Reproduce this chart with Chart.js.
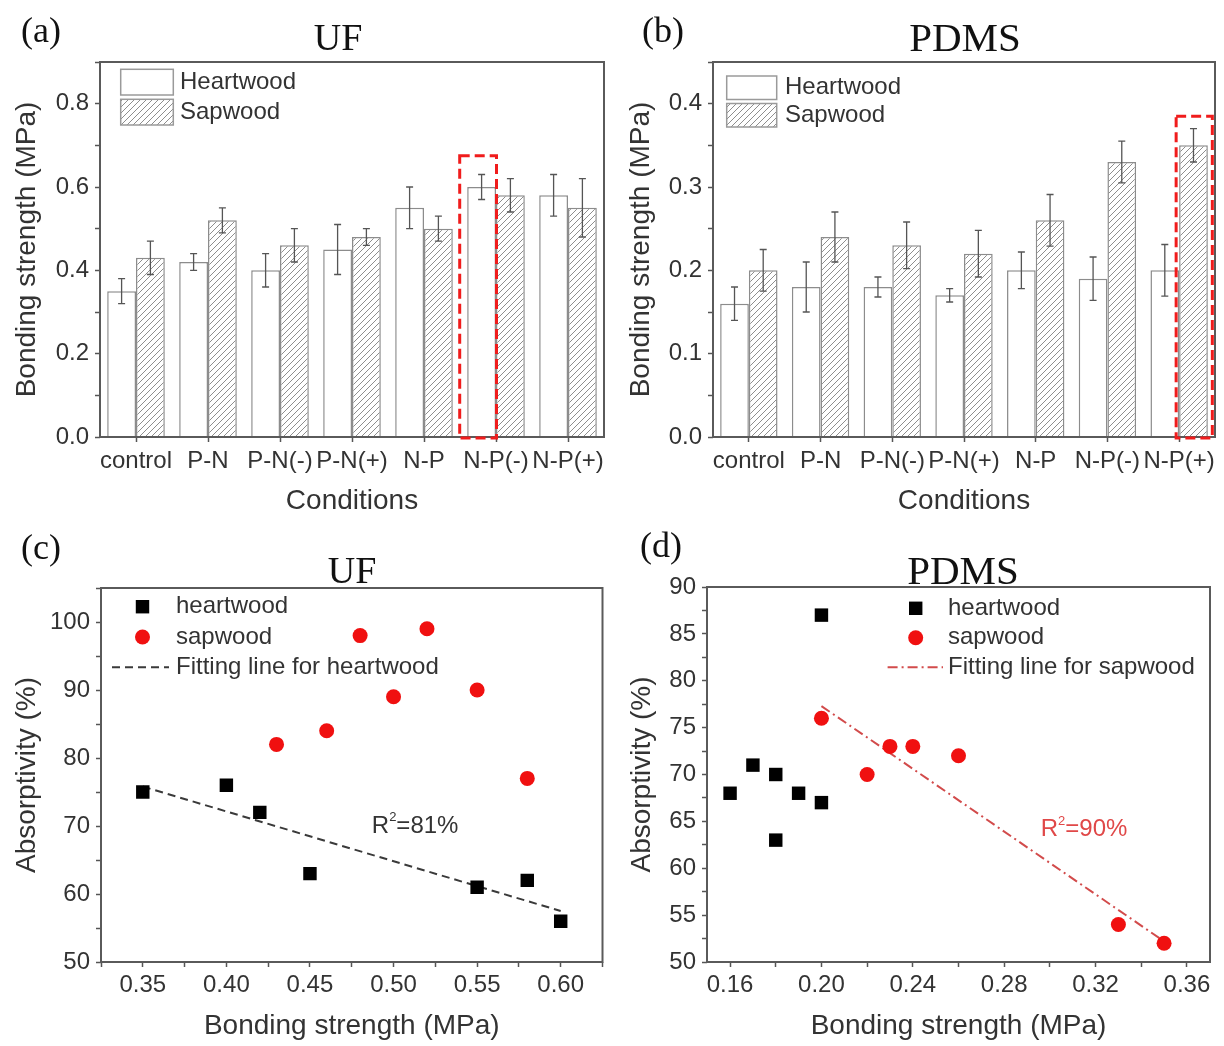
<!DOCTYPE html>
<html>
<head>
<meta charset="utf-8">
<script src="https://cdn.jsdelivr.net/npm/chart.js@4.4.0/dist/chart.umd.min.js"></script>
<style>
html,body{margin:0;padding:0;background:#fff;}
#wrap{position:relative;width:1224px;height:1046px;overflow:hidden;background:#fff;}
#wrap canvas{position:absolute;}
.lbl{position:absolute;font-family:"Liberation Serif","Times New Roman",serif;color:#111;white-space:nowrap;line-height:1;}
.ctr{transform:translateX(-50%);}
</style>
</head>
<body>
<div id="wrap">
  <canvas id="ca" width="612" height="523" style="left:0;top:0"></canvas>
  <canvas id="cb" width="612" height="523" style="left:612px;top:0"></canvas>
  <canvas id="cc" width="612" height="523" style="left:0;top:523px"></canvas>
  <canvas id="cd" width="612" height="523" style="left:612px;top:523px"></canvas>
  <div class="lbl" style="left:21px;top:12px;font-size:36px">(a)</div>
  <div class="lbl ctr" style="left:338px;top:18px;font-size:38px">UF</div>
  <div class="lbl" style="left:642px;top:12px;font-size:36px">(b)</div>
  <div class="lbl ctr" style="left:965px;top:17px;font-size:41px">PDMS</div>
  <div class="lbl" style="left:21px;top:529px;font-size:36px">(c)</div>
  <div class="lbl ctr" style="left:352px;top:551px;font-size:38px">UF</div>
  <div class="lbl" style="left:640px;top:527px;font-size:36px">(d)</div>
  <div class="lbl ctr" style="left:963px;top:550px;font-size:41px">PDMS</div>
</div>
<script>
// ---------------- DATA ----------------
const categories = ['control', 'P-N', 'P-N(-)', 'P-N(+)', 'N-P', 'N-P(-)', 'N-P(+)'];

// (a) UF bonding strength (MPa)
const ufHeartwood    = [0.35, 0.42, 0.40, 0.45, 0.55, 0.60, 0.58];
const ufHeartwoodErr = [0.03, 0.02, 0.04, 0.06, 0.05, 0.03, 0.05];
const ufSapwood      = [0.43, 0.52, 0.46, 0.48, 0.50, 0.58, 0.55];
const ufSapwoodErr   = [0.04, 0.03, 0.04, 0.02, 0.03, 0.04, 0.07];

// (b) PDMS bonding strength (MPa)
const pdmsHeartwood    = [0.16, 0.18, 0.18, 0.17, 0.20, 0.19, 0.20];
const pdmsHeartwoodErr = [0.02, 0.03, 0.012, 0.008, 0.022, 0.026, 0.031];
const pdmsSapwood      = [0.20, 0.24, 0.23, 0.22, 0.26, 0.33, 0.35];
const pdmsSapwoodErr   = [0.025, 0.03, 0.028, 0.028, 0.031, 0.025, 0.02];

// highlighted bars (dashed red boxes): category index, dataset index, top value
const ufHighlight   = { index: 5, dataset: 0, top: 0.675 };
const pdmsHighlight = { index: 6, dataset: 1, top: 0.385 };

// (c) UF absorptivity vs bonding strength
const ufHeartX = [0.35, 0.40, 0.42, 0.45, 0.55, 0.58, 0.60];
const ufHeartY = [75, 76, 72, 63, 61, 62, 56];
const ufSapX   = [0.43, 0.46, 0.48, 0.50, 0.52, 0.55, 0.58];
const ufSapY   = [82, 84, 98, 89, 99, 90, 77];
const ufFitX   = [0.35, 0.60];
const ufFitY   = [75.8, 57.5];

// (d) PDMS absorptivity vs bonding strength
const pdmsHeartX = [0.16, 0.17, 0.18, 0.18, 0.19, 0.20, 0.20];
const pdmsHeartY = [68, 71, 70, 63, 68, 67, 87];
const pdmsSapX   = [0.20, 0.22, 0.23, 0.24, 0.26, 0.33, 0.35];
const pdmsSapY   = [76, 70, 73, 73, 72, 54, 52];
const pdmsFitX   = [0.20, 0.35];
const pdmsFitY   = [77.3, 52.2];

// ---------------- STYLE / PLUGINS ----------------
const FAMILY = '"Liberation Sans", Arial, Helvetica, sans-serif';
const TEXT = '#333';
Chart.defaults.font.family = FAMILY;
Chart.defaults.color = TEXT;
Chart.defaults.animation = false;

function makeHatch() {
  const c = document.createElement('canvas');
  c.width = 6; c.height = 6;
  const g = c.getContext('2d');
  g.fillStyle = '#fff'; g.fillRect(0, 0, 6, 6);
  g.strokeStyle = '#8e8e8e'; g.lineWidth = 1;
  g.beginPath();
  g.moveTo(0, 6); g.lineTo(6, 0);
  g.moveTo(-1, 1); g.lineTo(1, -1);
  g.moveTo(5, 7); g.lineTo(7, 5);
  g.stroke();
  return g.createPattern(c, 'repeat');
}
const hatch = makeHatch();

const framePlugin = {
  id: 'frame',
  afterDraw(chart) {
    const { ctx, chartArea: a } = chart;
    ctx.save();
    ctx.strokeStyle = '#5a5a5a';
    ctx.lineWidth = 2;
    ctx.setLineDash([]);
    ctx.strokeRect(a.left, a.top, a.right - a.left, a.bottom - a.top);
    ctx.restore();
  }
};

const errorBarPlugin = {
  id: 'errorBars',
  afterDatasetsDraw(chart) {
    const { ctx } = chart;
    const ys = chart.scales.y;
    chart.data.datasets.forEach((ds, di) => {
      if (!ds.errors) return;
      const meta = chart.getDatasetMeta(di);
      ctx.save();
      ctx.strokeStyle = '#555';
      ctx.lineWidth = 1.3;
      meta.data.forEach((bar, i) => {
        const v = ds.data[i], e = ds.errors[i];
        const yt = ys.getPixelForValue(v + e), yb = ys.getPixelForValue(v - e);
        const x = bar.x, cap = 3.5;
        ctx.beginPath();
        ctx.moveTo(x, yt); ctx.lineTo(x, yb);
        ctx.moveTo(x - cap, yt); ctx.lineTo(x + cap, yt);
        ctx.moveTo(x - cap, yb); ctx.lineTo(x + cap, yb);
        ctx.stroke();
      });
      ctx.restore();
    });
  }
};

const highlightPlugin = {
  id: 'highlight',
  afterDraw(chart, _a, o) {
    if (!o || !o.box) return;
    const { ctx } = chart;
    const ys = chart.scales.y;
    const bar = chart.getDatasetMeta(o.box.dataset).data[o.box.index];
    const left = bar.x - bar.width / 2 - o.padL;
    const right = bar.x + bar.width / 2 + o.padR;
    const top = ys.getPixelForValue(o.box.top);
    const bottom = ys.getPixelForValue(0) + 1;
    ctx.save();
    ctx.strokeStyle = '#f01c1c';
    ctx.lineWidth = 3;
    ctx.setLineDash([10, 5]);
    ctx.strokeRect(left, top, right - left, bottom - top);
    ctx.restore();
  }
};

const boxLegendPlugin = {
  id: 'boxLegend',
  afterDraw(chart, _a, o) {
    if (!o || o.x === undefined) return;
    const { ctx } = chart;
    ctx.save();
    chart.data.datasets.forEach((ds, i) => {
      const y = o.y + i * (o.h + o.gap);
      ctx.fillStyle = ds.backgroundColor;
      ctx.fillRect(o.x, y, o.w, o.h);
      ctx.strokeStyle = '#9a9a9a';
      ctx.lineWidth = 1.5;
      ctx.strokeRect(o.x, y, o.w, o.h);
      ctx.fillStyle = TEXT;
      ctx.font = o.size + 'px ' + FAMILY;
      ctx.textBaseline = 'middle';
      ctx.textAlign = 'left';
      ctx.fillText(ds.label, o.textX, y + o.h / 2);
    });
    ctx.restore();
  }
};

const markerLegendPlugin = {
  id: 'markerLegend',
  afterDraw(chart, _a, o) {
    if (!o || o.x === undefined) return;
    const { ctx } = chart;
    ctx.save();
    chart.data.datasets.forEach((ds, i) => {
      const y = o.y + i * o.dy;
      if (ds.showLine) {
        ctx.strokeStyle = ds.borderColor;
        ctx.lineWidth = ds.borderWidth;
        ctx.setLineDash(ds.borderDash || []);
        ctx.beginPath();
        ctx.moveTo(o.lineX0, y); ctx.lineTo(o.lineX1, y);
        ctx.stroke();
        ctx.setLineDash([]);
      } else {
        ctx.fillStyle = ds.backgroundColor;
        ctx.strokeStyle = ds.borderColor;
        Chart.helpers.drawPoint(ctx, {
          pointStyle: ds.pointStyle, radius: ds.pointRadius, rotation: 0, borderWidth: ds.borderWidth
        }, o.x, y);
      }
      ctx.fillStyle = TEXT;
      ctx.font = o.size + 'px ' + FAMILY;
      ctx.textBaseline = 'middle';
      ctx.textAlign = 'left';
      ctx.fillText(ds.label, o.textX, y);
    });
    ctx.restore();
  }
};

const notePlugin = {
  id: 'note',
  afterDatasetsDraw(chart, _a, o) {
    if (!o || !o.rest) return;
    const { ctx } = chart;
    let x = chart.scales.x.getPixelForValue(o.x);
    const y = chart.scales.y.getPixelForValue(o.y);
    ctx.save();
    ctx.fillStyle = o.color;
    ctx.textBaseline = 'middle';
    ctx.textAlign = 'left';
    ctx.font = o.size + 'px ' + FAMILY;
    ctx.fillText('R', x, y);
    x += ctx.measureText('R').width;
    ctx.font = Math.round(o.size * 0.55) + 'px ' + FAMILY;
    ctx.fillText('2', x, y - o.size * 0.36);
    x += ctx.measureText('2').width;
    ctx.font = o.size + 'px ' + FAMILY;
    ctx.fillText(o.rest, x, y);
    ctx.restore();
  }
};

Chart.register(errorBarPlugin, framePlugin, highlightPlugin, boxLegendPlugin, markerLegendPlugin, notePlugin);

// ---------------- HELPERS ----------------
function yAxis(opts) {
  return {
    type: 'linear',
    min: opts.min, max: opts.max,
    afterFit: s => { s.width = opts.left; },
    border: { display: false },
    grid: { drawOnChartArea: false, drawTicks: true, tickLength: 5, tickColor: '#555', tickWidth: 1.5 },
    ticks: {
      stepSize: opts.step, includeBounds: false, padding: 6, color: TEXT,
      font: { size: 24 }, autoSkip: false,
      callback: opts.label
    },
    title: { display: true, text: opts.title, color: TEXT, font: { size: 28 }, padding: { top: opts.titlePad, bottom: 0 } }
  };
}

function barChart(id, heart, heartErr, sap, sapErr, yCfg, layout, legend, hl) {
  return new Chart(document.getElementById(id), {
    type: 'bar',
    data: {
      labels: categories,
      datasets: [
        { label: 'Heartwood', data: heart, errors: heartErr, backgroundColor: '#ffffff',
          borderColor: '#8c8c8c', borderWidth: 1.5, barPercentage: 1, categoryPercentage: 0.8 },
        { label: 'Sapwood', data: sap, errors: sapErr, backgroundColor: hatch,
          borderColor: '#8c8c8c', borderWidth: 1.5, barPercentage: 1, categoryPercentage: 0.8 }
      ]
    },
    options: {
      responsive: false,
      animation: false,
      layout: { padding: { left: 0, top: layout.top, right: layout.right, bottom: 0 } },
      plugins: {
        legend: { display: false }, tooltip: { enabled: false },
        boxLegend: legend, highlight: hl
      },
      scales: {
        x: {
          type: 'category',
          offset: true,
          afterFit: s => { s.height = layout.xh; },
          border: { display: false },
          grid: { offset: false, drawOnChartArea: false, drawTicks: true, tickLength: 5, tickColor: '#555', tickWidth: 1.5 },
          ticks: { autoSkip: false, maxRotation: 0, minRotation: 0, padding: 5, font: { size: 24 }, color: TEXT },
          title: { display: true, text: 'Conditions', color: TEXT, font: { size: 28 }, padding: { top: 0, bottom: layout.xTitlePad } }
        },
        y: yAxis(yCfg)
      }
    }
  });
}

function pts(xs, ys) { return xs.map((x, i) => ({ x: x, y: ys[i] })); }

function scatterChart(id, hx, hy, sx, sy, fx, fy, fitLabel, fitColor, fitDash, xCfg, yCfg, layout, legend, note) {
  return new Chart(document.getElementById(id), {
    type: 'scatter',
    data: {
      datasets: [
        { label: 'heartwood', data: pts(hx, hy), pointStyle: 'rect', pointRadius: 9.5,
          backgroundColor: '#000', borderColor: '#000', borderWidth: 0 },
        { label: 'sapwood', data: pts(sx, sy), pointStyle: 'circle', pointRadius: 7.5,
          backgroundColor: '#f01010', borderColor: '#f01010', borderWidth: 0 },
        { label: fitLabel, type: 'line', data: pts(fx, fy), showLine: true, fill: false,
          pointRadius: 0, borderColor: fitColor, borderWidth: 2, borderDash: fitDash, backgroundColor: fitColor }
      ]
    },
    options: {
      responsive: false,
      animation: false,
      layout: { padding: { left: 0, top: layout.top, right: layout.right, bottom: 0 } },
      plugins: {
        legend: { display: false }, tooltip: { enabled: false },
        markerLegend: legend, note: note
      },
      scales: {
        x: {
          type: 'linear', min: xCfg.min, max: xCfg.max,
          afterFit: s => { s.height = layout.xh; },
          border: { display: false },
          grid: { drawOnChartArea: false, drawTicks: true, tickLength: 5, tickColor: '#555', tickWidth: 1.5 },
          ticks: { stepSize: xCfg.step, includeBounds: false, autoSkip: false, maxRotation: 0,
                   padding: 4, font: { size: 24 }, color: TEXT, callback: xCfg.label },
          title: { display: true, text: 'Bonding strength (MPa)', color: TEXT, font: { size: 28 },
                   padding: { top: 0, bottom: layout.xTitlePad } }
        },
        y: yAxis(yCfg)
      }
    }
  });
}

// ---------------- CHARTS ----------------
barChart('ca', ufHeartwood, ufHeartwoodErr, ufSapwood, ufSapwoodErr,
  { min: 0, max: 0.9, step: 0.1, left: 100, titlePad: 10, title: 'Bonding strength (MPa)',
    label: v => (Math.round(v * 10) % 2 === 0 ? v.toFixed(1) : '') },
  { top: 62, right: 8, xh: 86, xTitlePad: 5 },
  { x: 120.7, y: 69.3, w: 52.6, h: 25.7, gap: 4.3, textX: 180, size: 24 },
  { box: ufHighlight, padL: 7.5, padR: 0.5 });

barChart('cb', pdmsHeartwood, pdmsHeartwoodErr, pdmsSapwood, pdmsSapwoodErr,
  { min: 0, max: 0.45, step: 0.05, left: 101, titlePad: 12, title: 'Bonding strength (MPa)',
    label: v => (Math.round(v * 100) % 10 === 0 ? v.toFixed(1) : '') },
  { top: 62, right: 9, xh: 86, xTitlePad: 5 },
  { x: 114.7, y: 76, w: 50, h: 23.5, gap: 4, textX: 173, size: 24 },
  { box: pdmsHighlight, padL: 3, padR: 4.5 });

scatterChart('cc', ufHeartX, ufHeartY, ufSapX, ufSapY, ufFitX, ufFitY,
  'Fitting line for heartwood', '#3a3a3a', [8, 5],
  { min: 0.325, max: 0.625, step: 0.025,
    label: v => (Math.round(v * 1000) % 50 === 0 ? v.toFixed(2) : '') },
  { min: 50, max: 105, step: 5, left: 101, titlePad: 10, title: 'Absorptivity (%)',
    label: v => (Math.round(v) % 10 === 0 ? String(Math.round(v)) : '') },
  { top: 65, right: 7, xh: 84, xTitlePad: 3 },
  { x: 142.5, y: 83.7, dy: 30.3, lineX0: 112, lineX1: 169, textX: 176, size: 24 },
  { x: 0.487, y: 70, rest: '=81%', color: '#333', size: 24 });

scatterChart('cd', pdmsHeartX, pdmsHeartY, pdmsSapX, pdmsSapY, pdmsFitX, pdmsFitY,
  'Fitting line for sapwood', '#d24b4b', [10, 4, 2, 4],
  { min: 0.1499, max: 0.3701, step: 0.02,
    label: v => (Math.round(v * 100) % 4 === 0 ? v.toFixed(2) : '') },
  { min: 50, max: 90, step: 2.5, left: 95, titlePad: 13, title: 'Absorptivity (%)',
    label: v => (Math.abs(v - Math.round(v)) < 1e-6 && Math.round(v) % 5 === 0 ? String(Math.round(v)) : '') },
  { top: 64, right: 14, xh: 84, xTitlePad: 3 },
  { x: 303.7, y: 85.3, dy: 29.5, lineX0: 275.6, lineX1: 331, textX: 336, size: 24 },
  { x: 0.296, y: 64.1, rest: '=90%', color: '#e04848', size: 24 });
</script>
</body>
</html>
